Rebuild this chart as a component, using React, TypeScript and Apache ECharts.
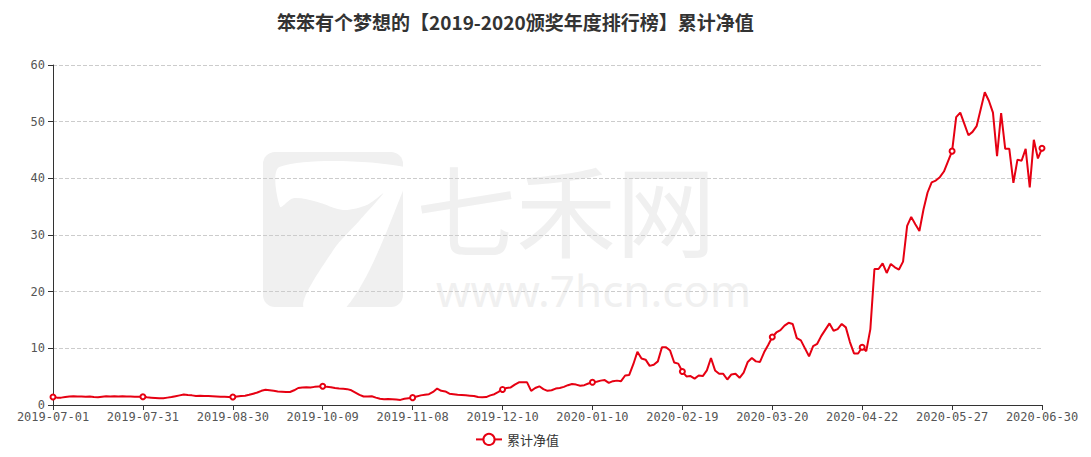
import React, { useEffect, useRef } from "react";
import * as echarts from "echarts";

const TITLE = "笨笨有个梦想的【2019-2020颁奖年度排行榜】累计净值";
const SERIES_NAME = "累计净值";
const START_DATE = "2019-07-01";
const END_DATE = "2020-06-30";
const MARKET_HOLIDAYS = [
  "2019-09-13",
  "2019-10-01", "2019-10-02", "2019-10-03", "2019-10-04", "2019-10-07",
  "2020-01-01",
  "2020-01-24", "2020-01-27", "2020-01-28", "2020-01-29", "2020-01-30", "2020-01-31",
  "2020-04-06",
  "2020-05-01", "2020-05-04", "2020-05-05",
  "2020-06-25", "2020-06-26",
];
const NAV_VALUES = [
  1.4, 1.3, 1.3, 1.4, 1.5, 1.55, 1.5, 1.5, 1.45, 1.5,
  1.4, 1.35, 1.45, 1.55, 1.5, 1.55, 1.5, 1.55, 1.5, 1.5,
  1.45, 1.45, 1.45, 1.35, 1.3, 1.25, 1.2, 1.2, 1.3, 1.4,
  1.55, 1.7, 1.85, 1.75, 1.7, 1.6, 1.65, 1.6, 1.6, 1.55,
  1.5, 1.45, 1.45, 1.4, 1.4, 1.5, 1.6, 1.65, 1.8, 2.0,
  2.2, 2.5, 2.7, 2.6, 2.5, 2.4, 2.35, 2.3, 2.3, 2.6,
  3.0, 3.1, 3.15, 3.1, 3.2, 3.25, 3.3, 3.2, 3.15, 3.0,
  2.9, 2.85, 2.8, 2.6, 2.2, 1.8, 1.5, 1.5, 1.55, 1.3,
  1.1, 1.0, 1.05, 1.0, 0.95, 0.9, 1.1, 1.2, 1.3, 1.5,
  1.7, 1.8, 1.9, 2.3, 2.9, 2.5, 2.4, 2.0, 1.9, 1.8,
  1.75, 1.7, 1.65, 1.6, 1.4, 1.35, 1.4, 1.7, 1.9, 2.3,
  2.75, 3.0, 3.1, 3.6, 4.0, 4.0, 4.0, 2.5, 3.0, 3.3,
  2.8, 2.5, 2.6, 2.9, 3.0, 3.2, 3.5, 3.7, 3.6, 3.4,
  3.5, 3.8, 4.0, 4.1, 4.3, 4.4, 3.9, 4.2, 4.3, 4.2,
  5.2, 5.3, 7.2, 9.4, 8.2, 8.0, 6.9, 7.1, 7.7, 10.2,
  10.2, 9.6, 7.5, 7.3, 5.9, 5.05, 5.1, 4.65, 5.2, 5.1,
  6.1, 8.3, 6.1, 5.5, 5.5, 4.5, 5.4, 5.5, 4.8, 5.7,
  7.6, 8.3, 7.7, 7.6, 9.3, 10.6, 12.0, 12.8, 13.2, 14.0,
  14.5, 14.3, 11.8, 11.4, 10.0, 8.6, 10.4, 10.8, 12.2, 13.3,
  14.4, 13.1, 13.4, 14.3, 13.7, 11.1, 9.1, 9.1, 10.2, 9.5,
  13.4, 24.0, 24.0, 25.0, 23.3, 24.9, 24.3, 23.9, 25.3, 31.6,
  33.2, 31.9, 30.7, 34.5, 37.5, 39.3, 39.6, 40.2, 41.2, 43.0,
  44.8, 50.8, 51.6, 49.6, 47.6, 48.2, 49.2, 52.2, 55.2, 53.7,
  51.6, 43.9, 51.5, 45.2, 45.2, 39.2, 43.3, 43.1, 45.2, 38.4,
  46.8, 43.5, 45.3,
];
const Y_MIN = 0;
const Y_MAX = 60;
const Y_INTERVAL = 10;
const LABEL_INTERVAL = 21;

function tradingDays(start: string, end: string, holidays: string[]): string[] {
  const out: string[] = [];
  const skip = new Set(holidays);
  const d = new Date(start + "T00:00:00Z");
  const e = new Date(end + "T00:00:00Z");
  while (d.getTime() <= e.getTime()) {
    const wd = d.getUTCDay();
    const s = d.toISOString().slice(0, 10);
    if (wd !== 0 && wd !== 6 && !skip.has(s)) out.push(s);
    d.setUTCDate(d.getUTCDate() + 1);
  }
  return out;
}

const DATES = tradingDays(START_DATE, END_DATE, MARKET_HOLIDAYS);

const WM = "#f0f0f0";

export default function App() {
  const ref = useRef<HTMLDivElement>(null);
  useEffect(() => {
    document.body.style.margin = "0";
    if (!ref.current) return;
    const chart = echarts.init(ref.current, null, { renderer: "svg" });
    chart.setOption({
      animation: false,
      backgroundColor: "#ffffff",
      title: {
        text: TITLE,
        left: 272,
        top: 7,
        textStyle: {
          fontSize: 19,
          fontWeight: "bold",
          color: "#333",
          fontFamily: "'Noto Sans CJK SC', sans-serif",
        },
      },
      graphic: [
        {
          type: "rect",
          z: -10,
          shape: { x: 263, y: 152, width: 140, height: 155, r: 12 },
          style: { fill: WM },
          silent: true,
        },
        {
          type: "polygon",
          z: -9,
          shape: {
            points: [
              [280, 166.7], [403.3, 166.7], [403.3, 190], [346.7, 306.7],
              [303.3, 306.7], [333.3, 250], [360, 220], [383.3, 193.3],
              [366.7, 205], [343.3, 210], [316.7, 201.7], [293.3, 198.3],
              [280, 206.7],
            ],
            smooth: 0.3,
          },
          style: { fill: "#ffffff" },
          silent: true,
        },
        {
          type: "text",
          z: -10,
          x: 416,
          y: 156,
          silent: true,
          style: {
            text: "{a|七禾网}\n{b|www.7hcn.com}",
            fill: WM,
            verticalAlign: "top",
            rich: {
              a: {
                fontSize: 100,
                lineHeight: 100,
                fill: WM,
                fontFamily: "'Noto Sans CJK SC', sans-serif",
              },
              b: {
                fontSize: 44,
                lineHeight: 68,
                fill: WM,
                padding: [0, 0, 0, 20],
                fontFamily: "'Noto Sans', sans-serif",
              },
            },
          },
        },
      ],
      legend: {
        data: [SERIES_NAME],
        bottom: 6,
        left: 470,
        itemWidth: 26,
        itemHeight: 14,
        textStyle: {
          fontSize: 13,
          color: "#333",
          fontFamily: "'Noto Sans CJK SC', sans-serif",
        },
      },
      grid: { left: 53, right: 49, top: 65, bottom: 52 },
      xAxis: {
        type: "category",
        data: DATES,
        boundaryGap: false,
        axisLine: { lineStyle: { color: "#333" } },
        axisTick: { interval: LABEL_INTERVAL, lineStyle: { color: "#333" } },
        axisLabel: {
          interval: LABEL_INTERVAL,
          color: "#555",
          fontSize: 12,
          fontFamily: "'DejaVu Sans Mono', monospace",
          margin: 6,
        },
      },
      yAxis: {
        type: "value",
        min: Y_MIN,
        max: Y_MAX,
        interval: Y_INTERVAL,
        axisLine: { show: true, lineStyle: { color: "#333" } },
        axisTick: { show: true, lineStyle: { color: "#333" } },
        axisLabel: {
          color: "#555",
          fontSize: 12,
          fontFamily: "'DejaVu Sans Mono', monospace",
        },
        splitLine: { lineStyle: { type: "dashed", color: "#ccc" } },
      },
      series: [
        {
          name: SERIES_NAME,
          type: "line",
          data: NAV_VALUES,
          symbol: "emptyCircle",
          symbolSize: 5,
          itemStyle: { color: "#e60012", borderWidth: 1 },
          lineStyle: { width: 2, color: "#e60012" },
        },
      ],
    });
    return () => chart.dispose();
  }, []);
  return <div ref={ref} style={{ width: 1091, height: 457 }} />;
}
